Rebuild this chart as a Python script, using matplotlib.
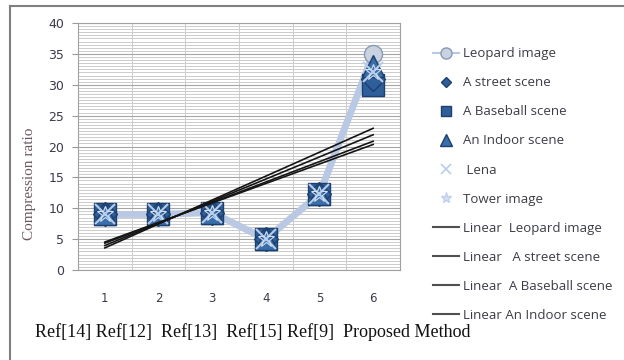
import numpy as np
import matplotlib.pyplot as plt
from matplotlib.lines import Line2D

# compression ratio of each method, per test image
methods = [1, 2, 3, 4, 5, 6]
method_names = "Ref[14] Ref[12]  Ref[13]  Ref[15] Ref[9]  Proposed Method"
leopard = [9, 9, 9.3, 5, 12.3, 35]
street = [9, 9, 9.3, 5, 12.3, 31]
baseball = [9, 9, 9.3, 5, 12.3, 30]
indoor = [9, 9, 9.3, 5, 12.3, 33]
lena = [9, 9, 9.3, 5, 12.3, 32]
tower = [9, 9, 9.3, 5, 12.3, 32]

fig = plt.figure(figsize=(6.24, 3.6), dpi=100)
fig.patch.set_facecolor('white')
ax = fig.add_axes([0.125, 0.25, 0.516, 0.686])

x = np.array(methods)
ax.plot(x, leopard, '-', color='#b9c9e3', lw=5, solid_capstyle='round', zorder=3)

dark = '#2e5f9a'
edge = '#1d3f6e'
ax.plot(x, baseball, 's', ms=16, mfc=dark, mec=edge, mew=1, ls='none', zorder=4)
ax.plot(x, street, 'D', ms=12, mfc=dark, mec=edge, mew=1, ls='none', zorder=4)
ax.plot(x, indoor, '^', ms=16, mfc='#3a6eaa', mec=edge, mew=1, ls='none', zorder=4)
ax.plot(x[-1:], leopard[-1:], 'o', ms=13, mfc='#c8d2e0', mec='#8a9ab5', mew=1, zorder=3.5)
ax.plot(x, lena, 'x', ms=14, mec='#b8cdea', mew=1.5, ls='none', zorder=5)
ax.plot(x, tower, '*', ms=12, mfc='none', mec='#d0dff2', mew=0.8, ls='none', zorder=5)

# linear trend lines
for series in (leopard, street, baseball, indoor):
    k, b = np.polyfit(x, series, 1)
    ax.plot(x, k * x + b, color='#151515', lw=1.2, zorder=6)

ax.set_xlim(0.5, 6.5)
ax.set_ylim(0, 40)
ax.set_xticks(methods)
ax.set_yticks(range(0, 41, 5))
ax.set_xticks(np.arange(0.5, 6.6, 0.5), minor=True)
ax.set_yticks(np.arange(0, 40.1, 0.5), minor=True)
ax.grid(True, which='minor', color='#cccccc', lw=0.7)
ax.grid(True, which='major', axis='y', color='#a5a5a5', lw=0.8)
ax.set_axisbelow(True)
ax.tick_params(axis='x', which='both', length=0, pad=16, labelsize=8.5, labelcolor='#3a3a4a')
ax.tick_params(axis='y', which='major', length=4, color='#999999', pad=6, labelsize=9,
               labelcolor='#3a3a4a')
ax.tick_params(axis='y', which='minor', length=0)
for s in ax.spines.values():
    s.set_color('#a0a0a0')

fig.text(30 / 624, 1 - 184 / 360, 'Compression ratio', rotation=90, va='center', ha='center',
         family='Liberation Serif', fontsize=11, color='#6a5560')
fig.text(35 / 624, 1 - 332 / 360, method_names, family='Liberation Serif', fontsize=13,
         color='#111111', va='center')

# legend
lc = '#505050'
handles = [
    Line2D([], [], color='#b9c9e3', lw=1.5, marker='o', ms=8, mfc='#c8d2e0', mec='#8a9ab5'),
    Line2D([], [], ls='none', marker='D', ms=5, mfc=dark, mec=edge),
    Line2D([], [], ls='none', marker='s', ms=7, mfc=dark, mec=edge),
    Line2D([], [], ls='none', marker='^', ms=8, mfc='#3a6eaa', mec=edge),
    Line2D([], [], ls='none', marker='x', ms=7, mec='#b8cdea', mew=1.2),
    Line2D([], [], ls='none', marker='*', ms=8, mfc='#d0dff2', mec='#c0d2ea'),
    Line2D([], [], color=lc, lw=1.5),
    Line2D([], [], color=lc, lw=1.5),
    Line2D([], [], color=lc, lw=1.5),
    Line2D([], [], color=lc, lw=1.5),
]
labels = ['Leopard image', 'A street scene', 'A Baseball scene', 'An Indoor scene', ' Lena',
          'Tower image', 'Linear  Leopard image', 'Linear   A street scene',
          'Linear  A Baseball scene', 'Linear An Indoor scene']
leg = fig.legend(handles, labels, loc='upper left', bbox_to_anchor=(0.675, 0.902),
                 frameon=False, fontsize=9.5, labelspacing=1.22, handlelength=2.0,
                 handletextpad=0.25)
for t in leg.get_texts():
    t.set_color('#3c3c46')
    t.set_family('Open Sans')

# outer frame
fig.add_artist(Line2D([10 / 624, 10 / 624], [0, 1 - 6 / 360], transform=fig.transFigure,
                      color='#808080', lw=1.5))
fig.add_artist(Line2D([10 / 624, 1], [1 - 6 / 360, 1 - 6 / 360], transform=fig.transFigure,
                      color='#808080', lw=1.5))

fig.savefig('out.png', dpi=100)
